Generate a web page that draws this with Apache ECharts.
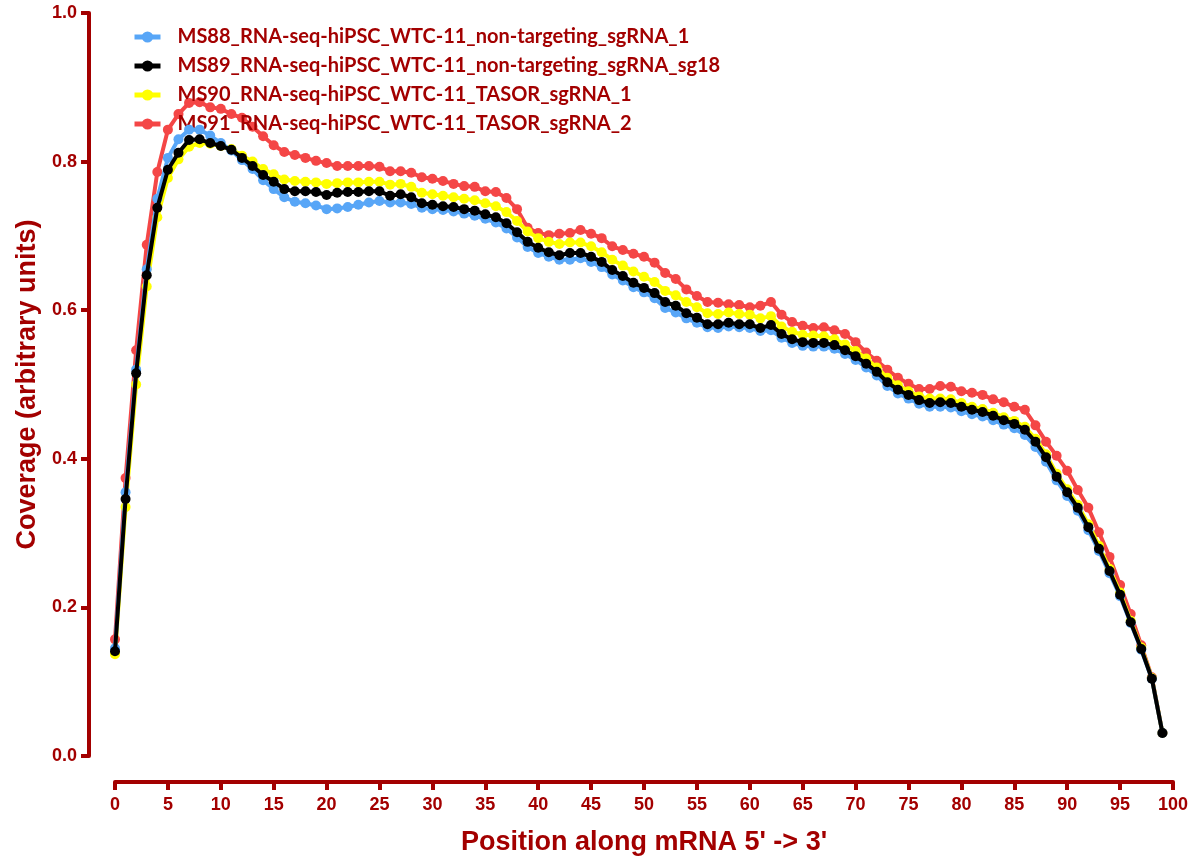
<!DOCTYPE html>
<html>
<head>
<meta charset="utf-8">
<title>Gene body coverage</title>
<script src="https://cdn.jsdelivr.net/npm/echarts@6/dist/echarts.min.js"></script>
<style>
  html, body { margin: 0; padding: 0; background: #fff; }
  #main { width: 1190px; height: 859px; }
</style>
</head>
<body>
<div id="main"></div>
<script>
// position along transcript (percentile bins 0..99)
var positions = [];
for (var p = 0; p < 100; p++) positions.push(p);

var seriesNames = [
  'MS88_RNA-seq-hiPSC_WTC-11_non-targeting_sgRNA_1',
  'MS89_RNA-seq-hiPSC_WTC-11_non-targeting_sgRNA_sg18',
  'MS90_RNA-seq-hiPSC_WTC-11_TASOR_sgRNA_1',
  'MS91_RNA-seq-hiPSC_WTC-11_TASOR_sgRNA_2'
];

var ms88 = [
  0.145, 0.355, 0.520, 0.655, 0.750, 0.805, 0.830, 0.843, 0.843, 0.835,
  0.825, 0.815, 0.802, 0.790, 0.775, 0.763, 0.752, 0.746, 0.744, 0.741,
  0.736, 0.737, 0.739, 0.742, 0.745, 0.747, 0.745, 0.745, 0.743, 0.738,
  0.736, 0.735, 0.733, 0.730, 0.727, 0.723, 0.718, 0.710, 0.698, 0.685,
  0.677, 0.672, 0.668, 0.668, 0.670, 0.665, 0.658, 0.648, 0.640, 0.631,
  0.624, 0.616, 0.603, 0.597, 0.589, 0.583, 0.577, 0.576, 0.578, 0.577,
  0.576, 0.572, 0.573, 0.563, 0.556, 0.552, 0.551, 0.551, 0.548, 0.541,
  0.533, 0.523, 0.512, 0.498, 0.488, 0.481, 0.474, 0.470, 0.470, 0.469,
  0.464, 0.460, 0.457, 0.452, 0.446, 0.441, 0.432, 0.416, 0.396, 0.371,
  0.350, 0.330, 0.304, 0.276, 0.246, 0.215, 0.179, 0.143, 0.104, 0.031
];

var ms89 = [
  0.141, 0.346, 0.515, 0.647, 0.738, 0.789, 0.812, 0.829, 0.830, 0.825,
  0.821, 0.816, 0.805, 0.794, 0.782, 0.773, 0.763, 0.760, 0.760, 0.759,
  0.755, 0.758, 0.759, 0.759, 0.760, 0.760, 0.754, 0.756, 0.752, 0.744,
  0.742, 0.740, 0.739, 0.736, 0.734, 0.729, 0.725, 0.717, 0.705, 0.692,
  0.684, 0.678, 0.674, 0.677, 0.677, 0.672, 0.665, 0.654, 0.646, 0.637,
  0.630, 0.623, 0.611, 0.606, 0.596, 0.590, 0.581, 0.581, 0.583, 0.581,
  0.581, 0.576, 0.580, 0.568, 0.561, 0.557, 0.556, 0.556, 0.553, 0.546,
  0.538, 0.528, 0.517, 0.503, 0.493, 0.486, 0.479, 0.475, 0.476, 0.475,
  0.470, 0.466, 0.463, 0.458, 0.452, 0.447, 0.439, 0.423, 0.402, 0.376,
  0.355, 0.334, 0.308, 0.279, 0.249, 0.217, 0.180, 0.144, 0.104, 0.031
];

var ms90 = [
  0.137, 0.335, 0.500, 0.632, 0.725, 0.778, 0.803, 0.820, 0.825, 0.824,
  0.821, 0.817, 0.808, 0.800, 0.790, 0.783, 0.776, 0.774, 0.773, 0.772,
  0.770, 0.771, 0.772, 0.772, 0.773, 0.773, 0.769, 0.770, 0.766, 0.758,
  0.756, 0.754, 0.752, 0.750, 0.748, 0.744, 0.740, 0.732, 0.720, 0.706,
  0.697, 0.692, 0.689, 0.691, 0.691, 0.686, 0.678, 0.668, 0.660, 0.652,
  0.645, 0.638, 0.626, 0.620, 0.611, 0.604, 0.596, 0.595, 0.597, 0.595,
  0.594, 0.589, 0.592, 0.578, 0.571, 0.567, 0.566, 0.565, 0.561, 0.554,
  0.545, 0.535, 0.523, 0.509, 0.499, 0.491, 0.484, 0.481, 0.481, 0.480,
  0.475, 0.470, 0.467, 0.462, 0.456, 0.451, 0.443, 0.427, 0.406, 0.380,
  0.359, 0.338, 0.312, 0.283, 0.252, 0.220, 0.182, 0.146, 0.105, 0.031
];

var ms91 = [
  0.157, 0.374, 0.546, 0.688, 0.786, 0.843, 0.864, 0.879, 0.880, 0.873,
  0.871, 0.864, 0.859, 0.847, 0.834, 0.822, 0.813, 0.809, 0.805, 0.801,
  0.798, 0.794, 0.794, 0.794, 0.794, 0.793, 0.787, 0.787, 0.785, 0.779,
  0.777, 0.774, 0.770, 0.767, 0.766, 0.760, 0.759, 0.751, 0.736, 0.711,
  0.704, 0.701, 0.703, 0.704, 0.708, 0.703, 0.697, 0.686, 0.681, 0.676,
  0.672, 0.664, 0.650, 0.642, 0.628, 0.619, 0.611, 0.610, 0.608, 0.607,
  0.604, 0.606, 0.611, 0.594, 0.584, 0.579, 0.576, 0.577, 0.573, 0.568,
  0.557, 0.543, 0.532, 0.520, 0.509, 0.501, 0.494, 0.494, 0.498, 0.497,
  0.491, 0.489, 0.486, 0.480, 0.476, 0.470, 0.466, 0.445, 0.423, 0.404,
  0.384, 0.358, 0.334, 0.301, 0.268, 0.230, 0.191, 0.149, 0.106, 0.031
];

var colors = ['#58a6f7', '#000000', '#ffff00', '#f44646'];
var darkRed = '#a30000';

function pairs(vals) {
  return positions.map(function (x, i) { return [x, vals[i]]; });
}

function makeSeries(name, vals, color, z) {
  return {
    name: name,
    type: 'line',
    data: pairs(vals),
    symbol: 'circle',
    symbolSize: 10,
    showAllSymbol: true,
    z: z,
    itemStyle: { color: color },
    lineStyle: { color: color, width: 4 },
    emphasis: { disabled: true }
  };
}

var myChart = echarts.init(document.getElementById('main'));

var option = {
  animation: false,
  grid: { left: 115, right: 17, top: 13, bottom: 103, outerBoundsMode: 'none', containLabel: false },
  legend: {
    data: seriesNames,
    orient: 'vertical',
    left: 132,
    top: 27,
    padding: 0,
    itemWidth: 26,
    itemHeight: 14,
    itemGap: 9,
    lineStyle: { width: 5 },
    textStyle: {
      color: darkRed,
      fontFamily: 'Lato',
      fontWeight: 'bold',
      fontSize: 20,
      lineHeight: 20,
      padding: [0, 0, 0, 12]
    }
  },
  xAxis: {
    type: 'value',
    min: 0,
    max: 100,
    interval: 5,
    offset: 26,
    name: "Position along mRNA 5' -> 3'",
    nameLocation: 'middle',
    nameGap: 47,
    nameTextStyle: { color: darkRed, fontFamily: 'Liberation Sans', fontWeight: 'bold', fontSize: 27 },
    axisLine: { onZero: false, lineStyle: { color: darkRed, width: 4 } },
    axisTick: { length: 8, lineStyle: { color: darkRed, width: 4 } },
    axisLabel: { color: darkRed, fontFamily: 'Liberation Sans', fontWeight: 'bold', fontSize: 18, margin: 14 },
    splitLine: { show: false }
  },
  yAxis: {
    type: 'value',
    min: 0,
    max: 1,
    interval: 0.2,
    offset: 26,
    name: 'Coverage (arbitrary units)',
    nameLocation: 'middle',
    nameGap: 47,
    nameTextStyle: { color: darkRed, fontFamily: 'Liberation Sans', fontWeight: 'bold', fontSize: 27 },
    axisLine: { show: true, onZero: false, lineStyle: { color: darkRed, width: 4 } },
    axisTick: { show: true, length: 8, lineStyle: { color: darkRed, width: 4 } },
    axisLabel: {
      color: darkRed, fontFamily: 'Liberation Sans', fontWeight: 'bold', fontSize: 18, margin: 12,
      formatter: function (v) { return v.toFixed(1); }
    },
    splitLine: { show: false }
  },
  series: [
    makeSeries(seriesNames[3], ms91, colors[3], 2),
    makeSeries(seriesNames[2], ms90, colors[2], 3),
    makeSeries(seriesNames[0], ms88, colors[0], 4),
    makeSeries(seriesNames[1], ms89, colors[1], 5)
  ]
};

myChart.setOption(option);
window.addEventListener('resize', function () {
  myChart.resize();
});
</script>
</body>
</html>
